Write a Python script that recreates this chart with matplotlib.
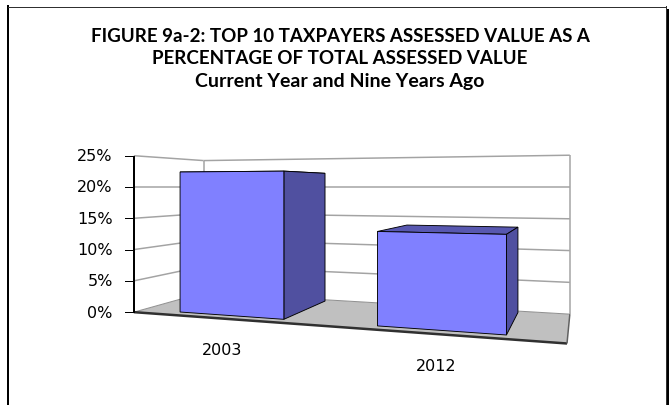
import numpy as np
import matplotlib.pyplot as plt
from matplotlib.patches import Polygon

# top 10 taxpayers' share of total assessed value (%)
years = ['2003', '2012']
share = [22.4, 13.6]
pct_ticks = [0, 5, 10, 15, 20, 25]

title_lines = ['FIGURE 9a-2: TOP 10 TAXPAYERS ASSESSED VALUE AS A',
               'PERCENTAGE OF TOTAL ASSESSED VALUE',
               'Current Year and Nine Years Ago']

W, H = 669, 406

# perspective of the 3-D box on the page (pixel units)
# x runs across the categories 0..1, d goes into the page 0..1, h is in percent
EYE_V, EYE_H = 188.0, 20.0
CU = 335.0
W0, WX, WD = 0.1598, -0.032, 0.0295
P0, PX, PD = -32.15, 61.8, 7.29


def proj(x, d, h):
    w = W0 + WX * x + WD * d
    u = CU + (P0 + PX * x + PD * d) / w
    v = EYE_V + (EYE_H - h) / w
    return u, v


def face(pts, **kw):
    xy = [proj(*p) for p in pts]
    ax.add_patch(Polygon(xy, closed=True, **kw))


def seg(p, q, **kw):
    a, b = proj(*p), proj(*q)
    ax.plot([a[0], b[0]], [a[1], b[1]], solid_capstyle='butt', **kw)


px = 0.72  # one pixel in points

fig = plt.figure(figsize=(W / 100, H / 100), dpi=100)
ax = fig.add_axes([0, 0, 1, 1])
ax.set_xlim(0, W)
ax.set_ylim(H, 0)
ax.axis('off')

# frame round the chart, with a shadow on the right
ax.plot([8, 8], [7, H], color='black', lw=2 * px)
ax.plot([8, 666], [7.5, 7.5], color='#303030', lw=1 * px)
ax.plot([665.5, 665.5], [7, H], color='#303030', lw=1 * px)
ax.plot([668, 668], [11, H], color='black', lw=3 * px)

# title
title_fs = [13.5, 13.5, 14]
for i, line in enumerate(title_lines):
    ax.text(340, 36 + 22.5 * i, line, ha='center', va='center',
            fontsize=title_fs[i], fontweight='bold', family='Lato',
            color='black')

top = pct_ticks[-1]
grid_c = '#a3a3a3'

# floor
face([(0, 0, 0), (1, 0, 0), (1, 1, 0), (0, 1, 0)], facecolor='#c0c0c0',
     edgecolor='none', zorder=1)

# walls: left and back, white with gridlines
face([(0, 0, 0), (0, 1, 0), (0, 1, top), (0, 0, top)], facecolor='white',
     edgecolor='none', zorder=1)
face([(0, 1, 0), (1, 1, 0), (1, 1, top), (0, 1, top)], facecolor='white',
     edgecolor='none', zorder=1)
for t in pct_ticks[1:]:
    seg((0, 0, t), (0, 1, t), color=grid_c, lw=1.5 * px, zorder=2)
    seg((0, 1, t), (1, 1, t), color=grid_c, lw=1.5 * px, zorder=2)
seg((0, 1, 0), (0, 1, top), color=grid_c, lw=1.5 * px, zorder=2)
seg((1, 1, 0), (1, 1, top), color=grid_c, lw=1.5 * px, zorder=2)
seg((0, 0, 0), (0, 1, 0), color='#909090', lw=1 * px, zorder=2)
seg((0, 1, 0), (1, 1, 0), color='#909090', lw=1 * px, zorder=2)

# darker front and right edges of the floor
seg((0, 0, 0), (1, 0, 0), color='#303030', lw=2.5 * px, zorder=3)
seg((1, 0, 0), (1, 1, 0), color='#606060', lw=1.5 * px, zorder=3)

# value axis on the front-left edge
seg((0, 0, 0), (0, 0, top), color='black', lw=2 * px, zorder=4)
for t in pct_ticks:
    u, v = proj(0, 0, t)
    ax.plot([u - 9, u], [v, v], color='black', lw=1 * px, zorder=4)
    ax.text(u - 21, v, f'{t}%', ha='right', va='center', fontsize=11.5,
            family='DejaVu Sans', color='black')

# columns
n = len(years)
bar_w = 0.276
d0, d1 = 0.12, 0.94
edge = dict(edgecolor='black', lw=0.9 * px, joinstyle='miter')
for i, (yr, val) in enumerate(zip(years, share)):
    c = (i + 0.5) / n - 0.007
    x0, x1 = c - bar_w / 2, c + bar_w / 2
    face([(x0, d0, val), (x1, d0, val), (x1, d1, val), (x0, d1, val)],
         facecolor='#5858b0', zorder=5, **edge)
    face([(x1, d0, 0), (x1, d1, 0), (x1, d1, val), (x1, d0, val)],
         facecolor='#5050a0', zorder=6, **edge)
    face([(x0, d0, 0), (x1, d0, 0), (x1, d0, val), (x0, d0, val)],
         facecolor='#8080ff', zorder=7, **edge)

    u, v = proj(c, 0, 0)
    ax.text(u, v + 31, yr, ha='center', va='center', fontsize=11.5,
            family='DejaVu Sans', color='black')

fig.savefig('out.png', dpi=100)
